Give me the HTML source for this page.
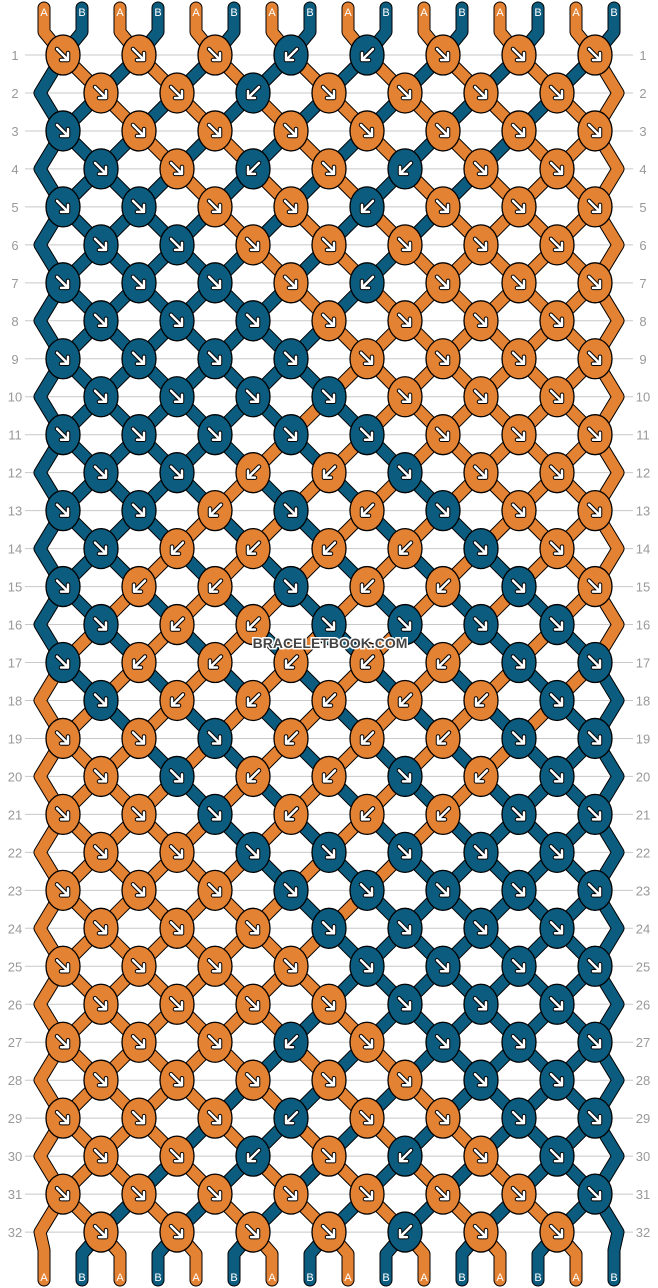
<!DOCTYPE html>
<html><head><meta charset="utf-8"><style>
html,body{margin:0;padding:0;background:#fff;}
svg{display:block;font-family:"Liberation Sans",sans-serif;}
</style></head><body>
<svg id="chart" width="658" height="1288" viewBox="0 0 658 1288" xmlns="http://www.w3.org/2000/svg">
<g id="grid"></g><g id="strands"></g><g id="knots"></g><g id="labels"></g>
<text x="330" y="648" text-anchor="middle" font-size="14" font-weight="bold" fill="#444" stroke="#fff" stroke-width="3" paint-order="stroke">BRACELETBOOK.COM</text>
</svg>
<script>
const startStrings = ["A","B","A","B","A","B","A","B","A","B","A","B","A","B","A","B"];
const knotColors = [
"OOOBBOOO","OOBOOOO","BOOOOOOO","BOBOBOO","BBOOBOOO","BBOOOOO","BBBOBOOO","BBBOOOO",
"BBBBOOOO","BBBBOOO","BBBBBOOO","BBOOBOO","BBOBOBOO","BOOOOBO","BOOBOOBO","BOOBBBB",
"BOOOOOBB","BOOOOOB","OOBOOOBB","OBOOBOB","OOBOOOBB","OOBBBBB","OOOBBBBB","OOOBBBB",
"OOOOBBBB","OOOOBBB","OOOBOBBB","OOOOOBB","OOOBOOBB","OOBOBOB","OOOOOOOB","OOOOBOO"];
const knotDirs = [
"FFFKKFFF","FFKFFFF","FFFFFFFF","FFKFKFF","FFFFKFFF","FFFFFFF","FFFFKFFF","FFFFFFF",
"FFFFFFFF","FFFFFFF","FFFFFFFF","FFKKFFF","FFKFKFFF","FKKKKFF","FKKFKKFF","FKKFFFF",
"FKKKKKFF","FKKKKKF","FFFKKKFF","FFKKFKF","FFFKKKFF","FFFFFFF","FFFFFFFF","FFFFFFF",
"FFFFFFFF","FFFFFFF","FFFKFFFF","FFFFFFF","FFFKFFFF","FFKFKFF","FFFFFFFF","FFFFKFF"];
const rowLabels = Array.from({length:32},(_,i)=>String(i+1));

const COL={A:"#e48233",B:"#0c5c7f",O:"#e48233"};
const NS="http://www.w3.org/2000/svg";
function el(t,a,p){const e=document.createElementNS(NS,t);for(const k in a)e.setAttribute(k,a[k]);p.appendChild(e);return e;}
const y0=55, dy=37.97;
function rowY(r){return y0+r*dy;}
function posX(r,p){
  if(r%2===0) return 63+76*Math.floor(p/2);
  if(p===0) return 40;
  if(p===15) return 618;
  return 101+76*Math.floor((p-1)/2);
}
const grid=document.getElementById('grid'), strandsG=document.getElementById('strands'), knotsG=document.getElementById('knots'), labelsG=document.getElementById('labels');
rowLabels.forEach((lab,r)=>{
  const y=rowY(r);
  const ln=el('line',{x1:25,x2:633,y1:y,y2:y,stroke:"#c8c8c8","stroke-width":1},grid);
  
  
  const t1=el('text',{x:15,y:y+5,"text-anchor":"middle","font-size":13,fill:"#999"},grid);t1.textContent=lab;
  
  
  const t2=el('text',{x:643,y:y+5,"text-anchor":"middle","font-size":13,fill:"#999"},grid);t2.textContent=lab;
  
  
});
const paths=startStrings.map((s,p)=>({c:s,pts:[[44+38*p,8],[44+38*p,32]]}));
let idx=startStrings.map((_,p)=>p);
const knotList=[];
knotDirs.forEach((row,r)=>{
  for(let p=0;p<16;p++) paths[idx[p]].pts.push([posX(r,p),rowY(r)]);
  const off=r%2===0?0:1;
  for(let k=0;k<row.length;k++){
    const a=off+2*k,b=a+1;const d=row[k];
    knotList.push({r,x:r%2===0?63+76*k:101+76*k,c:knotColors[r][k],d});
    if(d==="F"||d==="K"){const t=idx[a];idx[a]=idx[b];idx[b]=t;}
  }
});
for(let p=0;p<16;p++){
  const pp=paths[idx[p]].pts;
  if(p===0||p===15){pp.push([p===0?44:614,1250]);pp.push([p===0?44:614,1280]);}
  else{pp.push([44+38*p,1254]);pp.push([44+38*p,1280]);}
}
paths.forEach(s=>{
  const d=s.pts.map((q,i)=>(i?"L":"M")+q[0]+" "+q[1]).join(" ");
  const o=el('path',{d,fill:"none",stroke:"#000","stroke-width":13,"stroke-linejoin":"round","stroke-linecap":"round"},strandsG);
  
  
});
paths.forEach(s=>{
  const d=s.pts.map((q,i)=>(i?"L":"M")+q[0]+" "+q[1]).join(" ");
  const o=el('path',{d,fill:"none",stroke:COL[s.c],"stroke-width":11,"stroke-linejoin":"round","stroke-linecap":"round"},strandsG);
  
  
  [[s.pts[0][0],s.c,0],[s.pts[s.pts.length-1][0],s.c,1]].forEach(([x,c,b])=>{
    const t=el('text',{x:x,y:b?1281:16,"text-anchor":"middle","font-size":11,fill:"#fff"},labelsG);t.textContent=c;
    
    
  });
});
knotList.forEach(k=>{
  const y=rowY(k.r);
  const g=el('g',{},knotsG);
  
  
  el('ellipse',{cx:k.x,cy:y,rx:17,ry:20,fill:COL[k.c],stroke:"#000","stroke-width":1.3},g);
  const s=k.d==="F"?1:-1;
  const d=`M${k.x-6*s} ${y-6} L${k.x+5*s} ${y+5} M${k.x+5*s} ${y-2} L${k.x+5*s} ${y+5} L${k.x-2*s} ${y+5}`;
  el('path',{d,fill:"none",stroke:"#000","stroke-width":4.5,"stroke-linecap":"round","stroke-linejoin":"round"},g);
  el('path',{d,fill:"none",stroke:"#fff","stroke-width":2.5,"stroke-linecap":"round","stroke-linejoin":"round"},g);
});
</script>
</body></html>
